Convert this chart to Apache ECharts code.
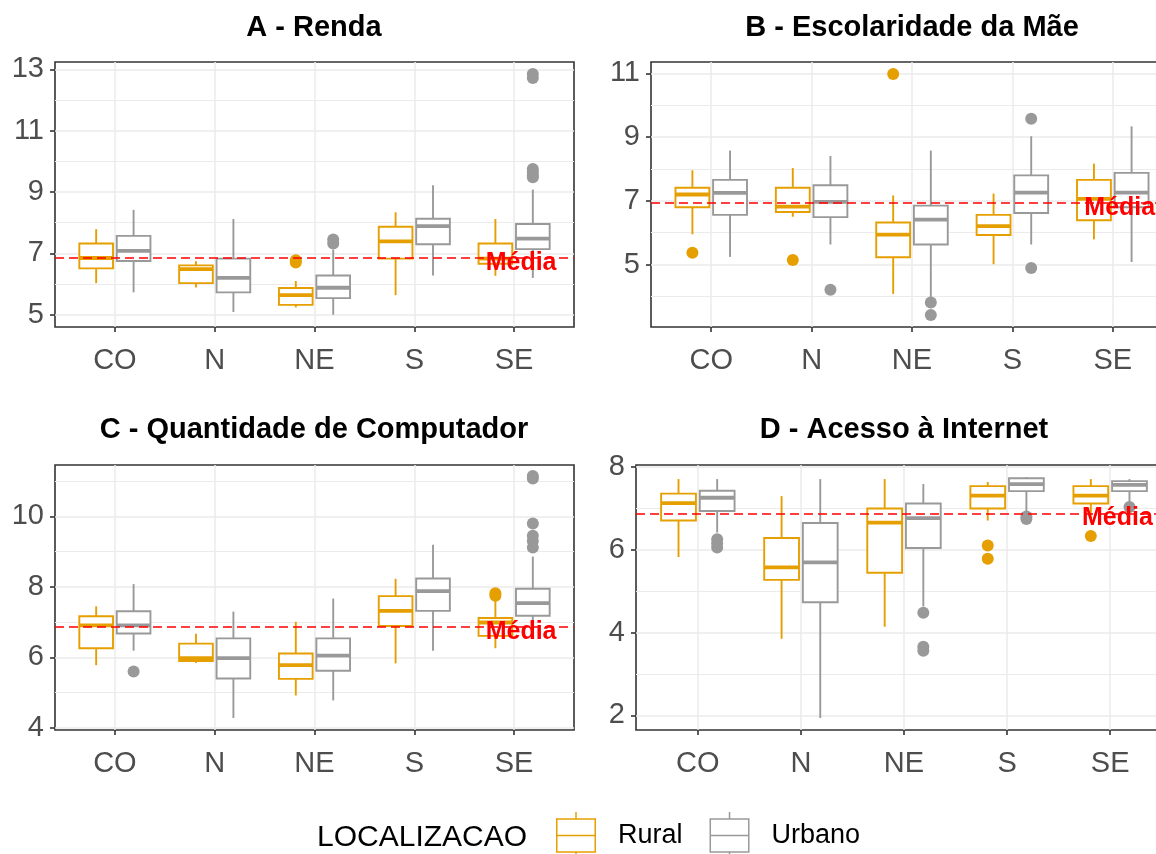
<!DOCTYPE html>
<html>
<head>
<meta charset="utf-8">
<script src="https://cdn.jsdelivr.net/npm/echarts@6/dist/echarts.min.js"></script>
<style>
  html, body { margin: 0; padding: 0; background: #ffffff; }
  #chart { width: 1156px; height: 854px; }
</style>
</head>
<body>
<div id="chart"></div>
<script>
// Regions on the x axis and the two school locations
const regions = ['CO', 'N', 'NE', 'S', 'SE'];
const groups = ['Rural', 'Urbano'];

// Box statistics per region: [lower whisker, Q1, median, Q3, upper whisker]
const rendaRural   = [[6.03, 6.51, 6.85, 7.32, 7.79], [5.89, 6.03, 6.49, 6.61, 6.74], [5.24, 5.32, 5.64, 5.87, 6.10], [5.64, 6.83, 7.39, 7.87, 8.34], [6.27, 6.66, 6.83, 7.32, 8.12]];
const rendaUrbano  = [[5.73, 6.75, 7.08, 7.57, 8.42], [5.09, 5.73, 6.20, 6.83, 8.12], [5.00, 5.54, 5.88, 6.28, 7.12], [6.28, 7.30, 7.89, 8.13, 9.22], [6.20, 7.14, 7.48, 7.96, 9.08]];
const rendaRuralOut  = [[], [], [6.78, 6.70], [], []];
const rendaUrbanoOut = [[], [], [7.45, 7.32], [], [12.85, 12.72, 9.75, 9.65, 9.55, 9.48]];

const escRural   = [[5.95, 6.80, 7.20, 7.41, 7.96], [6.50, 6.65, 6.82, 7.41, 8.03], [4.08, 5.23, 5.94, 6.32, 7.17], [5.01, 5.93, 6.21, 6.56, 7.23], [5.79, 6.39, 7.06, 7.66, 8.17]];
const escUrbano  = [[5.24, 6.56, 7.25, 7.66, 8.58], [5.63, 6.49, 6.97, 7.49, 8.41], [3.95, 5.63, 6.41, 6.85, 8.58], [5.63, 6.62, 7.26, 7.80, 9.03], [5.08, 6.80, 7.26, 7.88, 9.34]];
const escRuralOut  = [[5.37], [5.14], [10.98], [], []];
const escUrbanoOut = [[], [4.21], [3.81, 3.42], [9.58, 4.89], []];

const compRural   = [[5.78, 6.26, 6.91, 7.17, 7.45], [5.84, 5.90, 5.98, 6.39, 6.67], [4.92, 5.39, 5.78, 6.11, 7.01], [5.83, 6.89, 7.32, 7.74, 8.23], [6.26, 6.61, 6.99, 7.12, 7.60]];
const compUrbano  = [[6.19, 6.68, 6.91, 7.31, 8.08], [4.28, 5.40, 5.98, 6.54, 7.30], [4.78, 5.62, 6.05, 6.54, 7.67], [6.19, 7.32, 7.88, 8.24, 9.20], [6.85, 7.18, 7.54, 7.95, 8.86]];
const compRuralOut  = [[], [], [], [], [7.82, 7.75]];
const compUrbanoOut = [[5.60], [], [], [], [11.15, 11.08, 9.80, 9.45, 9.30, 9.12]];

const netRural   = [[5.82, 6.70, 7.12, 7.35, 7.70], [3.85, 5.27, 5.57, 6.28, 7.29], [4.14, 5.44, 6.65, 6.99, 7.70], [6.70, 6.99, 7.30, 7.53, 7.63], [6.65, 7.11, 7.30, 7.53, 7.70]];
const netUrbano  = [[6.41, 6.93, 7.25, 7.42, 7.70], [1.94, 4.73, 5.69, 6.64, 7.70], [4.63, 6.04, 6.76, 7.11, 7.58], [6.89, 7.41, 7.58, 7.72, 7.75], [7.13, 7.41, 7.56, 7.65, 7.70]];
const netRuralOut  = [[], [], [], [6.10, 5.78], [6.33]];
const netUrbanoOut = [[6.25, 6.15, 6.05], [], [4.48, 3.66, 3.56], [6.80, 6.74], [7.03]];

// Overall mean drawn as the dashed reference line
const rendaMedia = 6.85;
const escMedia = 6.93;
const compMedia = 6.86;
const netMedia = 6.87;

// Y axis ticks (labelled) and minor grid values
const rendaTicks = [5, 7, 9, 11, 13];
const rendaMinor = [6, 8, 10, 12];
const escTicks = [5, 7, 9, 11];
const escMinor = [4, 6, 8, 10];
const compTicks = [4, 6, 8, 10];
const compMinor = [5, 7, 9, 11];
const netTicks = [2, 4, 6, 8];
const netMinor = [3, 5, 7];

// Y axis ranges (data extent plus 5%)
const rendaRange = [4.6, 13.24];
const escRange = [3.04, 11.36];
const compRange = [3.94, 11.46];
const netRange = [1.65, 8.04];

const titles = ['A - Renda', 'B - Escolaridade da Mãe', 'C - Quantidade de Computador', 'D - Acesso à Internet'];

// ---- styling / layout ----
const FONT = "'Liberation Sans', Arial, Helvetica, sans-serif";
const ORANGE = '#E69F00';
const GREY = '#999999';
const DODGE = 0.1875;      // half of the dodge width
const BOX_WIDTH = 0.3375;  // box width in category units
const PAD = 0.6;           // discrete axis expansion
const MEDIA_X = 4.07;      // anchor of the "Média" label

const panels = [
  { title: titles[0], rural: rendaRural, urbano: rendaUrbano, ruralOut: rendaRuralOut, urbanoOut: rendaUrbanoOut, media: rendaMedia, ticks: rendaTicks, minor: rendaMinor, range: rendaRange,
    box: { left: 55, top: 62, width: 519, height: 265 }, titleX: 314, titleY: 28 },
  { title: titles[1], rural: escRural, urbano: escUrbano, ruralOut: escRuralOut, urbanoOut: escUrbanoOut, media: escMedia, ticks: escTicks, minor: escMinor, range: escRange,
    box: { left: 651, top: 62, width: 522, height: 265 }, titleX: 912, titleY: 28 },
  { title: titles[2], rural: compRural, urbano: compUrbano, ruralOut: compRuralOut, urbanoOut: compUrbanoOut, media: compMedia, ticks: compTicks, minor: compMinor, range: compRange,
    box: { left: 55, top: 465, width: 519, height: 265 }, titleX: 314, titleY: 430 },
  { title: titles[3], rural: netRural, urbano: netUrbano, ruralOut: netRuralOut, urbanoOut: netUrbanoOut, media: netMedia, ticks: netTicks, minor: netMinor, range: netRange,
    box: { left: 636, top: 465, width: 536, height: 265 }, titleX: 904, titleY: 430 }
];

// Draws one box: whiskers, white box with outline and a thicker median bar
function boxItem(color, shift) {
  return function (params, api) {
    const x = api.value(0) + shift;
    const half = api.size([BOX_WIDTH, 0])[0] / 2;
    const lo = api.coord([x, api.value(1)]);
    const q1 = api.coord([x, api.value(2)]);
    const md = api.coord([x, api.value(3)]);
    const q3 = api.coord([x, api.value(4)]);
    const hi = api.coord([x, api.value(5)]);
    return {
      type: 'group',
      children: [
        { type: 'line', shape: { x1: lo[0], y1: lo[1], x2: q1[0], y2: q1[1] }, style: { stroke: color, lineWidth: 1.9 } },
        { type: 'line', shape: { x1: q3[0], y1: q3[1], x2: hi[0], y2: hi[1] }, style: { stroke: color, lineWidth: 1.9 } },
        { type: 'rect', shape: { x: q3[0] - half, y: q3[1], width: half * 2, height: q1[1] - q3[1] }, style: { fill: '#ffffff', stroke: color, lineWidth: 1.9 } },
        { type: 'line', shape: { x1: md[0] - half, y1: md[1], x2: md[0] + half, y2: md[1] }, style: { stroke: color, lineWidth: 3.8 } }
      ]
    };
  };
}

const grid = [], xAxis = [], yAxis = [], series = [], graphic = [];
const catIdx = regions.map((r, i) => i);

panels.forEach((p, k) => {
  grid.push(Object.assign({
    show: true, borderColor: '#333333', borderWidth: 1.6, backgroundColor: 'transparent',
    containLabel: false, outerBoundsMode: 'none'
  }, p.box));
  xAxis.push({
    type: 'value', gridIndex: k, position: 'bottom', min: -PAD, max: regions.length - 1 + PAD,
    axisLine: { show: false, onZero: false },
    axisTick: { show: true, customValues: catIdx, length: 5, lineStyle: { color: '#333333', width: 1.6 } },
    axisLabel: { show: true, customValues: catIdx, formatter: v => regions[Math.round(v)], color: '#4D4D4D', fontSize: 29, fontFamily: FONT, margin: 19 },
    splitLine: { show: true, lineStyle: { color: '#EBEBEB', width: 1.5 } }
  });
  yAxis.push({
    type: 'value', gridIndex: k, position: 'left', min: p.range[0], max: p.range[1],
    axisLine: { show: false, onZero: false },
    axisTick: { show: true, customValues: p.ticks, length: 5, lineStyle: { color: '#333333', width: 1.6 } },
    axisLabel: { show: true, customValues: p.ticks, color: '#4D4D4D', fontSize: 29, fontFamily: FONT, margin: 11 },
    splitLine: { show: true, lineStyle: { color: '#EBEBEB', width: 1.5 } }
  });
  yAxis.push({
    type: 'value', gridIndex: k, position: 'left', min: p.range[0], max: p.range[1],
    axisLine: { show: false, onZero: false },
    axisTick: { show: false, customValues: p.minor },
    axisLabel: { show: false },
    splitLine: { show: true, lineStyle: { color: '#EBEBEB', width: 1 } }
  });

  const yi = 2 * k;
  [[p.rural, p.ruralOut, ORANGE, -DODGE, groups[0]], [p.urbano, p.urbanoOut, GREY, DODGE, groups[1]]].forEach(([stats, outs, color, shift, name], g) => {
    const s = {
      type: 'custom', name: name, xAxisIndex: k, yAxisIndex: yi,
      data: stats.map((v, i) => [i].concat(v)),
      encode: { x: 0, y: [1, 2, 3, 4, 5] },
      renderItem: boxItem(color, shift),
      itemStyle: { color: color },
      z: 2, silent: true
    };
    if (g === 0) {
      s.markLine = {
        silent: true, symbol: 'none', z: 5,
        data: [{ yAxis: p.media }],
        lineStyle: { color: '#FF0000', type: [9, 5], width: 1.6 },
        label: { show: false }
      };
      s.markPoint = {
        silent: true, symbol: 'circle', symbolSize: 0, z: 6,
        data: [{ coord: [MEDIA_X, p.media] }],
        label: { show: true, position: 'inside', formatter: 'Média', color: '#FF0000', fontWeight: 'bold', fontSize: 25, fontFamily: FONT, offset: [0, 5] }
      };
    }
    series.push(s);
    series.push({
      type: 'scatter', name: name + ' outliers', xAxisIndex: k, yAxisIndex: yi,
      data: outs.flatMap((vals, i) => vals.map(v => [i + shift, v])),
      symbol: 'circle', symbolSize: 12, itemStyle: { color: color, opacity: 1 },
      z: 3, silent: true
    });
  });

  graphic.push({
    type: 'text', x: p.titleX, y: p.titleY, silent: true,
    style: { text: p.title, fill: '#000000', font: 'bold 29px ' + FONT, align: 'center', verticalAlign: 'middle' }
  });
});

graphic.push({
  type: 'text', x: 317, y: 838, silent: true,
  style: { text: 'LOCALIZACAO', fill: '#000000', font: '30px ' + FONT, align: 'left', verticalAlign: 'middle' }
});

const KEY_ICON = 'path://M19.25,0h1.5v6.25h-1.5Z M0,6.25h40v1.5h-40Z M0,6.25h1.5v34.5h-1.5Z M38.5,6.25h1.5v34.5h-1.5Z M0,22.75h40v1.5h-40Z M0,39.25h40v1.5h-40Z M19.25,40.75h1.5v6.25h-1.5Z';

const chart = echarts.init(document.getElementById('chart'), null, { renderer: 'canvas' });
chart.setOption({
  animation: false,
  backgroundColor: '#ffffff',
  grid: grid,
  xAxis: xAxis,
  yAxis: yAxis,
  series: series,
  graphic: graphic,
  legend: {
    data: groups.map(g => ({ name: g, icon: KEY_ICON })),
    left: 556, top: 812, padding: 0, orient: 'horizontal',
    itemWidth: 40, itemHeight: 47, itemGap: 27,
    selectedMode: false,
    itemStyle: { borderWidth: 0 },
    textStyle: { fontSize: 27, color: '#000000', fontFamily: FONT, padding: [0, 0, 0, 17] }
  }
});
</script>
</body>
</html>
